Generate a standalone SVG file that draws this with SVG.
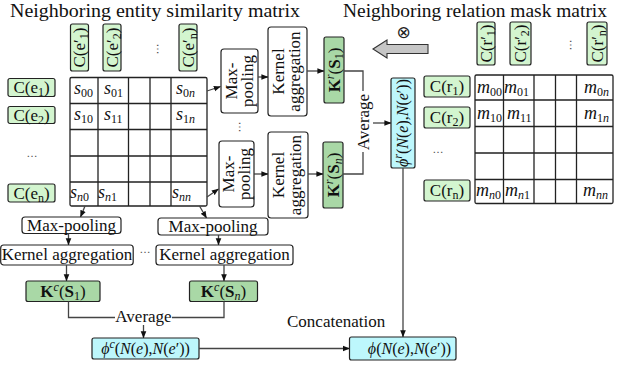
<svg xmlns="http://www.w3.org/2000/svg" width="630" height="368" viewBox="0 0 630 368" font-family="'Liberation Serif', Tinos, 'Times New Roman', 'DejaVu Serif', serif">
<style>
.t{font-family:'Liberation Serif',Tinos,'Times New Roman','DejaVu Serif',serif;font-size:17px;fill:#111}
.ti{font-family:'Liberation Serif',Tinos,'Times New Roman','DejaVu Serif',serif;font-size:19px;fill:#111}
.m{font-family:'Liberation Serif',Tinos,'Times New Roman','DejaVu Serif',serif;font-size:18px;font-style:italic;fill:#111}
.s{font-size:12px;font-style:normal}
.si{font-size:12px;font-style:italic}
.it{font-style:italic}
.b{font-weight:bold}
.box{fill:#fff;stroke:#222;stroke-width:1.2}
.lg{fill:#d3f5cf;stroke:#222;stroke-width:1.2}
.dg{fill:#a9d8a6;stroke:#222;stroke-width:1.2}
.cy{fill:#bdf7fc;stroke:#222;stroke-width:1.2}
.grid{fill:none;stroke:#222;stroke-width:1.3}
.ln{fill:none;stroke:#444;stroke-width:1.3}
.arr{marker-end:url(#ah)}
.dots{font-family:'DejaVu Sans',sans-serif;font-size:11px;fill:#555}
</style>
<defs>
<marker id="ah" viewBox="0 0 10 10" refX="9.5" refY="5" markerWidth="7" markerHeight="7" orient="auto" markerUnits="userSpaceOnUse">
<path d="M0,1 L10,5 L0,9 z" fill="#111"/>
</marker>
</defs>

<text class="ti" x="10" y="17" textLength="290" lengthAdjust="spacingAndGlyphs">Neighboring entity similarity matrix</text>
<text class="ti" x="343" y="17" textLength="264" lengthAdjust="spacingAndGlyphs">Neighboring relation mask matrix</text>

<!-- Column headers entity -->
<g id="ce1"><rect class="lg" x="70.5" y="24" width="18" height="47" rx="2"/><text class="t" transform="translate(79.5,47.5) rotate(-90)" y="5.5" text-anchor="middle">C(e′<tspan class="s" dy="3">1</tspan><tspan dy="-3">)</tspan></text></g>
<g id="ce2"><rect class="lg" x="103" y="24" width="18" height="47" rx="2"/><text class="t" transform="translate(112,47.5) rotate(-90)" y="5.5" text-anchor="middle">C(e′<tspan class="s" dy="3">2</tspan><tspan dy="-3">)</tspan></text></g>
<g id="cen"><rect class="lg" x="179" y="24" width="18" height="47" rx="2"/><text class="t" transform="translate(188,47.5) rotate(-90)" y="5.5" text-anchor="middle">C(e′<tspan class="s" dy="3">n</tspan><tspan dy="-3">)</tspan></text></g>
<text class="dots" transform="translate(157,49) rotate(90)" text-anchor="middle">…</text>

<!-- Row headers entity -->
<g id="re1"><rect class="lg" x="8" y="78.5" width="47" height="18" rx="2"/><text class="t" x="31.5" y="93" text-anchor="middle">C(e<tspan class="s" dy="3">1</tspan><tspan dy="-3">)</tspan></text></g>
<g id="re2"><rect class="lg" x="8" y="106.5" width="47" height="17" rx="2"/><text class="t" x="31.5" y="120.5" text-anchor="middle">C(e<tspan class="s" dy="3">2</tspan><tspan dy="-3">)</tspan></text></g>
<text class="dots" x="32" y="157" text-anchor="middle">…</text>
<g id="ren"><rect class="lg" x="8" y="184" width="47" height="18" rx="2"/><text class="t" x="31.5" y="198.5" text-anchor="middle">C(e<tspan class="s" dy="3">n</tspan><tspan dy="-3">)</tspan></text></g>

<!-- Entity similarity matrix -->
<g id="matrixS">
<rect class="grid" x="70" y="77.5" width="137" height="128.5" rx="1.5"/>
<path class="grid" d="M98,77.5V206 M128.5,77.5V206 M150,77.5V206 M171,77.5V206 M70,103.5H207 M70,129.5H207 M70,156H207 M70,182H207"/>
<text class="m" x="74" y="94">s<tspan class="s" dy="3">00</tspan></text>
<text class="m" x="104" y="94">s<tspan class="s" dy="3">01</tspan></text>
<text class="m" x="176" y="94">s<tspan class="s" dy="3">0</tspan><tspan class="si">n</tspan></text>
<text class="m" x="74" y="120">s<tspan class="s" dy="3">10</tspan></text>
<text class="m" x="104" y="120">s<tspan class="s" dy="3">11</tspan></text>
<text class="m" x="176" y="120">s<tspan class="s" dy="3">1</tspan><tspan class="si">n</tspan></text>
<text class="m" x="70" y="198">s<tspan class="si" dy="3">n</tspan><tspan class="s">0</tspan></text>
<text class="m" x="98" y="198">s<tspan class="si" dy="3">n</tspan><tspan class="s">1</tspan></text>
<text class="m" x="172" y="198">s<tspan class="si" dy="3">nn</tspan></text>
</g>

<!-- Right vertical branch -->
<g id="mp1"><rect class="box" x="221" y="49" width="37" height="64" rx="3"/><text class="t" transform="translate(239.5,81) rotate(-90)" text-anchor="middle"><tspan x="0" y="-3">Max-</tspan><tspan x="0" y="13.5">pooling</tspan></text></g>
<g id="ka1"><rect class="box" x="268" y="27" width="39" height="89" rx="3"/><text class="t" transform="translate(287.5,71.5) rotate(-90)" text-anchor="middle"><tspan x="0" y="-4">Kernel</tspan><tspan x="0" y="12.5">aggregation</tspan></text></g>
<g id="kr1"><rect class="dg" x="324" y="37" width="20" height="66" rx="2"/><text class="t" transform="translate(334,70) rotate(-90)" y="5.5" text-anchor="middle"><tspan class="b">K</tspan><tspan class="si" dy="-6">r</tspan><tspan dy="6">(</tspan><tspan class="b">S</tspan><tspan class="s" dy="3">1</tspan><tspan dy="-3">)</tspan></text></g>
<text class="dots" transform="translate(239,127) rotate(90)" text-anchor="middle">…</text>
<g id="mpn"><rect class="box" x="219" y="141" width="35" height="66" rx="3"/><text class="t" transform="translate(236.5,174) rotate(-90)" text-anchor="middle"><tspan x="0" y="-3">Max-</tspan><tspan x="0" y="13">pooling</tspan></text></g>
<g id="kan"><rect class="box" x="268" y="132" width="40" height="86" rx="3"/><text class="t" transform="translate(288,175) rotate(-90)" text-anchor="middle"><tspan x="0" y="-4">Kernel</tspan><tspan x="0" y="12.5">aggregation</tspan></text></g>
<g id="krn"><rect class="dg" x="323" y="142" width="20" height="66" rx="2"/><text class="t" transform="translate(333,175) rotate(-90)" y="5.5" text-anchor="middle"><tspan class="b">K</tspan><tspan class="si" dy="-6">r</tspan><tspan dy="6">(</tspan><tspan class="b">S</tspan><tspan class="si" dy="3">n</tspan><tspan dy="-3">)</tspan></text></g>
<text class="t" transform="translate(363,122) rotate(-90)" y="5.5" text-anchor="middle">Average</text>

<g id="phir"><rect class="cy" x="391" y="78" width="24" height="90" rx="2"/><text class="t" style="font-size:16px" transform="translate(403,123) rotate(-90)" y="5" text-anchor="middle"><tspan class="it">ϕ</tspan><tspan class="si" dy="-6">r</tspan><tspan dy="6">(</tspan><tspan class="it">N</tspan>(<tspan class="it">e</tspan>),<tspan class="it">N</tspan>(<tspan class="it">e</tspan>′))</text></g>

<!-- gray arrow and otimes -->
<g id="mask-arrow">
<polygon points="373,49 387,40 387,44.5 428,44.5 428,53.5 387,53.5 387,58" fill="#c6c6c6" stroke="#333" stroke-width="1.1"/>
<text x="403.5" y="37.5" text-anchor="middle" style="font-family:'DejaVu Sans',sans-serif;font-size:17px;fill:#222">⊗</text>
</g>

<!-- Relation column headers -->
<g id="cr1"><rect class="lg" x="477" y="22" width="18" height="43" rx="2"/><text class="t" transform="translate(486,43.5) rotate(-90)" y="5.5" text-anchor="middle">C(r′<tspan class="s" dy="3">1</tspan><tspan dy="-3">)</tspan></text></g>
<g id="cr2"><rect class="lg" x="510" y="22" width="21" height="43" rx="2"/><text class="t" transform="translate(520.5,43.5) rotate(-90)" y="5.5" text-anchor="middle">C(r′<tspan class="s" dy="3">2</tspan><tspan dy="-3">)</tspan></text></g>
<g id="crn"><rect class="lg" x="587" y="22" width="20" height="43" rx="2"/><text class="t" transform="translate(597,43.5) rotate(-90)" y="5.5" text-anchor="middle">C(r′<tspan class="s" dy="3">n</tspan><tspan dy="-3">)</tspan></text></g>
<text class="dots" transform="translate(570,45) rotate(90)" text-anchor="middle">…</text>

<!-- Relation row headers -->
<g id="rr1"><rect class="lg" x="424" y="76" width="46" height="21" rx="2"/><text class="t" x="447" y="92" text-anchor="middle">C(r<tspan class="s" dy="3">1</tspan><tspan dy="-3">)</tspan></text></g>
<g id="rr2"><rect class="lg" x="424" y="107" width="46" height="21" rx="2"/><text class="t" x="447" y="123" text-anchor="middle">C(r<tspan class="s" dy="3">2</tspan><tspan dy="-3">)</tspan></text></g>
<text class="dots" x="438" y="153" text-anchor="middle">…</text>
<g id="rrn"><rect class="lg" x="424" y="180" width="46" height="21" rx="2"/><text class="t" x="447" y="196" text-anchor="middle">C(r<tspan class="s" dy="3">n</tspan><tspan dy="-3">)</tspan></text></g>

<!-- Relation mask matrix -->
<g id="matrixM">
<rect class="grid" x="475" y="75" width="138" height="128.5" rx="1.5"/>
<path class="grid" d="M503.5,75V203.5 M534,75V203.5 M555.5,75V203.5 M576.5,75V203.5 M475,100H613 M475,126.5H613 M475,153H613 M475,179.5H613"/>
<text class="m" x="477" y="93">m<tspan class="s" dy="3">00</tspan></text>
<text class="m" x="504" y="93">m<tspan class="s" dy="3">01</tspan></text>
<text class="m" x="584" y="93">m<tspan class="s" dy="3">0</tspan><tspan class="si">n</tspan></text>
<text class="m" x="477" y="119">m<tspan class="s" dy="3">10</tspan></text>
<text class="m" x="507" y="119">m<tspan class="s" dy="3">11</tspan></text>
<text class="m" x="584" y="119">m<tspan class="s" dy="3">1</tspan><tspan class="si">n</tspan></text>
<text class="m" x="476" y="196">m<tspan class="si" dy="3">n</tspan><tspan class="s">0</tspan></text>
<text class="m" x="505" y="196">m<tspan class="si" dy="3">n</tspan><tspan class="s">1</tspan></text>
<text class="m" x="583" y="196">m<tspan class="si" dy="3">nn</tspan></text>
</g>

<!-- Bottom branch -->
<g id="mpb1"><rect class="box" x="22" y="217" width="99" height="16.5" rx="3"/><text class="t" x="71.5" y="230.5" text-anchor="middle">Max-pooling</text></g>
<g id="mpb2"><rect class="box" x="158" y="218" width="110" height="17" rx="3"/><text class="t" x="213" y="231.5" text-anchor="middle">Max-pooling</text></g>
<g id="kab1"><rect class="box" x="0.7" y="245" width="132.5" height="20" rx="3"/><text class="t" x="67" y="260" text-anchor="middle">Kernel aggregation</text></g>
<text class="dots" x="145" y="253" text-anchor="middle">…</text>
<g id="kab2"><rect class="box" x="156" y="245" width="137" height="20" rx="3"/><text class="t" x="224.5" y="260" text-anchor="middle">Kernel aggregation</text></g>
<g id="kc1"><rect class="dg" x="26" y="281" width="74" height="20.5" rx="2"/><text class="t" x="63" y="296.5" text-anchor="middle"><tspan class="b">K</tspan><tspan class="si" dy="-6">c</tspan><tspan dy="6">(</tspan><tspan class="b">S</tspan><tspan class="s" dy="3">1</tspan><tspan dy="-3">)</tspan></text></g>
<g id="kcn"><rect class="dg" x="189.5" y="281" width="68" height="20.5" rx="2"/><text class="t" x="223.5" y="296.5" text-anchor="middle"><tspan class="b">K</tspan><tspan class="si" dy="-6">c</tspan><tspan dy="6">(</tspan><tspan class="b">S</tspan><tspan class="si" dy="3">n</tspan><tspan dy="-3">)</tspan></text></g>
<text class="t" x="143.5" y="322" text-anchor="middle">Average</text>
<g id="phic"><rect class="cy" x="92" y="338" width="107" height="21" rx="2"/><text class="t" style="font-size:16px" x="145.5" y="353.5" text-anchor="middle"><tspan class="it">ϕ</tspan><tspan class="si" dy="-6">c</tspan><tspan dy="6">(</tspan><tspan class="it">N</tspan>(<tspan class="it">e</tspan>),<tspan class="it">N</tspan>(<tspan class="it">e</tspan>′))</text></g>
<text class="t" x="287" y="327">Concatenation</text>
<g id="phi"><rect class="cy" x="349.5" y="337" width="106.5" height="23" rx="2"/><text class="t" style="font-size:16px" x="409.5" y="353.5" text-anchor="middle"><tspan class="it">ϕ</tspan>(<tspan class="it">N</tspan>(<tspan class="it">e</tspan>),<tspan class="it">N</tspan>(<tspan class="it">e</tspan>′))</text></g>

<!-- Connectors -->
<g id="connectors">
<path class="ln arr" d="M207,91 L220.5,86.5"/>
<path class="ln arr" d="M258,77 H268"/>
<path class="ln arr" d="M307,71 H324"/>
<path class="ln" d="M344,71 H363 V91"/>
<path class="ln arr" d="M207,197 L218.5,189"/>
<path class="ln arr" d="M254,174 H268"/>
<path class="ln arr" d="M308,174 H323"/>
<path class="ln" d="M343,174 H363 V152"/>
<path class="ln arr" d="M373,123 H391"/>
<path class="ln arr" d="M403,168 V337"/>
<path class="ln arr" d="M85,206 L80.5,217"/>
<path class="ln arr" d="M199.5,206 L206.5,218"/>
<path class="ln arr" d="M68.5,233.5 V245"/>
<path class="ln arr" d="M218.5,235 V245"/>
<path class="ln arr" d="M66.5,265 V281"/>
<path class="ln arr" d="M224,265 V281"/>
<path class="ln" d="M68.5,301.5 V317.5 H115"/>
<path class="ln" d="M224,301.5 V317.5 H172"/>
<path class="ln arr" d="M143.5,325 V338"/>
<path class="ln arr" d="M199,348.5 H349.5"/>
</g>
</svg>
